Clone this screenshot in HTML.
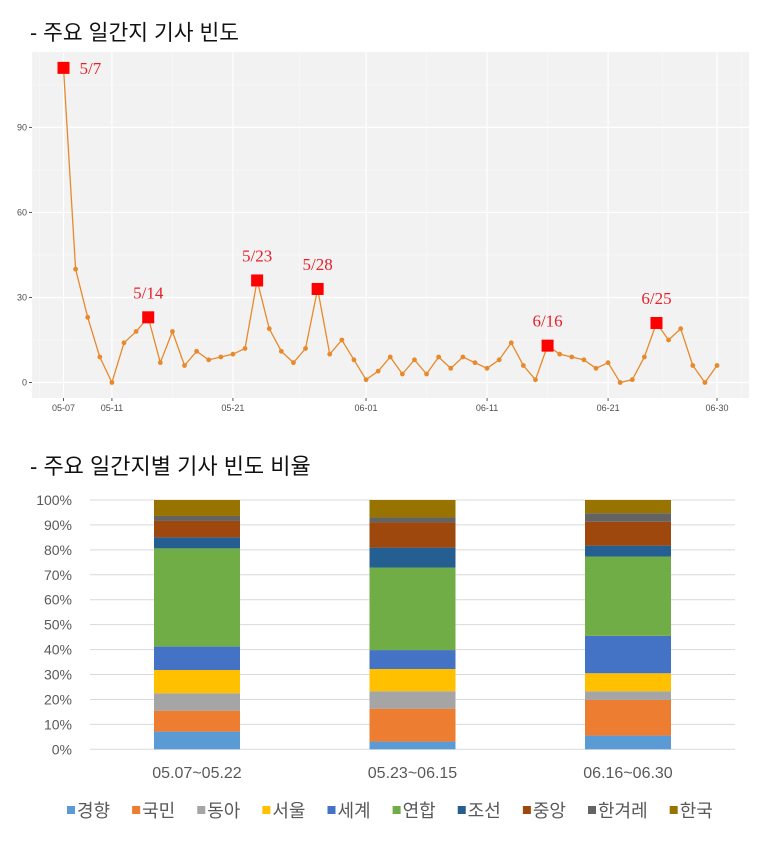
<!DOCTYPE html>
<html><head><meta charset="utf-8">
<style>
body{margin:0;background:#fff;width:775px;height:851px;overflow:hidden;font-family:"Liberation Sans","Noto Sans CJK KR",sans-serif;}
svg{position:absolute;left:0;top:0}
</style></head>
<body>
<svg id="c" width="775" height="851" xmlns="http://www.w3.org/2000/svg">
<text x="30" y="40" font-size="21.5" fill="#111" font-family="Liberation Sans,Noto Sans CJK KR,sans-serif">- 주요 일간지 기사 빈도</text>
<text x="30" y="474" font-size="22" fill="#111" font-family="Liberation Sans,Noto Sans CJK KR,sans-serif">- 주요 일간지별 기사 빈도 비율</text>
<g id="line"></g>
<g id="bars"></g>
</svg>
<script>
const counts=[111,40,23,9,0,14,18,23,7,18,6,11,8,9,10,12,36,19,11,7,12,33,10,15,8,1,4,9,3,8,3,9,5,9,7,5,8,14,6,1,13,10,9,8,5,7,0,1,9,21,15,19,6,0,6];
const xTickLabels=["05-07","05-11","05-21","06-01","06-11","06-21","06-30"];
const xTickDays=[0,4,14,25,35,45,54];
const yTicks=[0,30,60,90];
const highlightDays=[0,7,16,21,40,49];
const highlightLabels=["5/7","5/14","5/23","5/28","6/16","6/25"];

const periods=["05.07~05.22","05.23~06.15","06.16~06.30"];
const papers=["경향","국민","동아","서울","세계","연합","조선","중앙","한겨레","한국"];
const share1=[7.1,8.4,7.0,9.3,9.4,39.4,4.4,6.6,2.0,6.4];
const share2=[3.1,13.2,7.0,8.9,7.6,33.1,8.0,10.1,2.0,7.0];
const share3=[5.5,14.3,3.5,7.2,15.0,31.8,4.4,9.6,3.4,5.3];
const pctTicks=[0,10,20,30,40,50,60,70,80,90,100];

const NS="http://www.w3.org/2000/svg";
function mk(p,t,a){const e=document.createElementNS(NS,t);for(const k in a)e.setAttribute(k,a[k]);p.appendChild(e);return e;}

// line chart
const L=document.getElementById('line');
const xs=d=>63.5+d*(717-63.5)/54;
const ys=v=>382.5-v*(382.5-127.4)/90;
let bg=mk(L,'rect',{x:32,y:52,width:717,height:346,fill:'#f2f2f2'});


[15,45,75,105].forEach(v=>{let g=mk(L,'line',{x1:32,x2:749,y1:ys(v),y2:ys(v),stroke:'#fafafa','stroke-width':0.6});});
[-2,9,19.5,30,40,49.5,56].forEach(d=>{let g=mk(L,'line',{x1:xs(d),x2:xs(d),y1:52,y2:398,stroke:'#fafafa','stroke-width':0.6});});
yTicks.forEach(v=>{
 let g=mk(L,'line',{x1:32,x2:749,y1:ys(v),y2:ys(v),stroke:'#fff','stroke-width':1.2});
 
 mk(L,'line',{x1:29,x2:32,y1:ys(v),y2:ys(v),stroke:'#555','stroke-width':1});
 let t=mk(L,'text',{x:27,y:ys(v)+3,'font-size':9,fill:'#4d4d4d','text-anchor':'end'});t.textContent=v;
 
});
xTickDays.forEach((d,i)=>{
 let g=mk(L,'line',{x1:xs(d),x2:xs(d),y1:52,y2:398,stroke:'#fff','stroke-width':1.2});
 
 mk(L,'line',{x1:xs(d),x2:xs(d),y1:398,y2:401,stroke:'#555','stroke-width':1});
 let t=mk(L,'text',{x:xs(d),y:411,'font-size':9,fill:'#4d4d4d','text-anchor':'middle'});t.textContent=xTickLabels[i];
 
});
let pl=mk(L,'polyline',{points:counts.map((v,i)=>xs(i)+','+ys(v)).join(' '),fill:'none',stroke:'#E8892B','stroke-width':1.3});

counts.forEach((v,i)=>{let c=mk(L,'circle',{cx:xs(i),cy:ys(v),r:2.4,fill:'#E8892B'});});
highlightDays.forEach((d,i)=>{
 const x=xs(d),y=ys(counts[d]);
 let r=mk(L,'rect',{x:x-6,y:y-6,width:12,height:12,fill:'#f00'});
 
 let t;
 if(i===0){t=mk(L,'text',{x:x+16,y:y+6,'font-size':17,fill:'#e8202a','font-family':'Liberation Serif,serif'});}
 else{t=mk(L,'text',{x:x,y:y-19,'font-size':17,fill:'#e8202a','text-anchor':'middle','font-family':'Liberation Serif,serif'});}
 t.textContent=highlightLabels[i];
 
});

// bar chart
const B=document.getElementById('bars');
const colors=["#5B9BD5","#ED7D31","#A5A5A5","#FFC000","#4472C4","#70AD47","#255E91","#9E480E","#636363","#997300"];
const by=p=>749.3-p*(749.3-500)/100;
pctTicks.forEach(p=>{
 let g=mk(B,'line',{x1:90,x2:735,y1:by(p),y2:by(p),stroke:'#d9d9d9','stroke-width':1});
 
 let t=mk(B,'text',{x:72,y:by(p)+5,'font-size':14,fill:'#595959','text-anchor':'end'});t.textContent=p+'%';
 
});
const shares=[share1,share2,share3];
const centers=[197,412.5,628];
shares.forEach((s,bi)=>{
 let acc=0;
 s.forEach((v,k)=>{
  const top=k===s.length-1?100:acc+v;
  let r=mk(B,'rect',{x:centers[bi]-43,y:by(top),width:86,height:by(acc)-by(top),fill:colors[k]});
  
  acc+=v;
 });
 let t=mk(B,'text',{x:centers[bi],y:778,'font-size':16,fill:'#595959','text-anchor':'middle'});t.textContent=periods[bi];
 
});
let lx=67;
papers.forEach((p,k)=>{
 let r=mk(B,'rect',{x:lx,y:806,width:8,height:8,fill:colors[k]});
 
 let t=mk(B,'text',{x:lx+10,y:817,'font-size':18,fill:'#595959'});t.textContent=p;
 
 lx+=10+t.getComputedTextLength()+22;
});
</script>
</body></html>
